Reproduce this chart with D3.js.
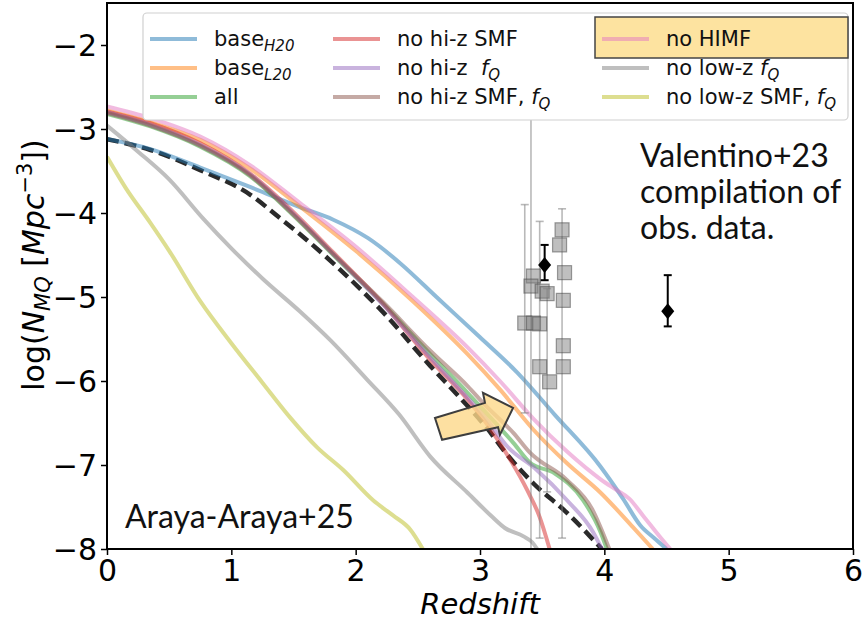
<!DOCTYPE html>
<html>
<head>
<meta charset="utf-8">
<script src="https://cdn.jsdelivr.net/npm/d3@7"></script>
<style>
  body { margin: 0; background: #fff; }
  svg { display: block; }
</style>
</head>
<body>
<svg width="865" height="621"></svg>
<script>
// model curves: [redshift, log N]
var baseH20 = [[0,-3.12],[0.35,-3.24],[0.75,-3.46],[1.15,-3.69],[1.55,-3.93],[1.82,-4.08],[2.1,-4.3],[2.36,-4.6],[2.65,-5.0],[3.0,-5.48],[3.3,-5.9],[3.6,-6.4],[3.97,-7.02],[4.15,-7.4],[4.29,-7.72],[4.4,-7.87],[4.5,-8.0]];
var baseL20 = [[0,-2.78],[0.35,-2.92],[0.75,-3.13],[1.15,-3.47],[1.55,-3.92],[2.0,-4.45],[2.46,-5.05],[2.9,-5.68],[3.16,-6.1],[3.43,-6.58],[3.7,-6.98],[3.97,-7.33],[4.23,-7.74],[4.39,-8.0]];
var allObs = [[0,-2.82],[0.35,-2.97],[0.75,-3.21],[1.15,-3.56],[1.5,-4.03],[1.82,-4.5],[2.22,-5.08],[2.6,-5.68],[2.9,-6.14],[3.05,-6.38],[3.27,-6.74],[3.4,-6.97],[3.6,-7.1],[3.83,-7.42],[3.97,-7.8],[4.02,-8.0]];
var noHiSMF = [[0,-2.79],[0.35,-2.93],[0.75,-3.17],[1.15,-3.53],[1.5,-3.99],[1.82,-4.47],[2.22,-5.08],[2.6,-5.75],[2.9,-6.22],[3.05,-6.5],[3.22,-6.88],[3.38,-7.3],[3.48,-7.62],[3.56,-8.0]];
var noHiFQ = [[0,-2.8],[0.35,-2.95],[0.75,-3.19],[1.15,-3.54],[1.5,-4.01],[1.82,-4.49],[2.22,-5.09],[2.6,-5.72],[2.9,-6.2],[3.05,-6.45],[3.22,-6.78],[3.45,-7.05],[3.7,-7.42],[3.91,-7.8],[3.98,-8.0]];
var noHiSMFFQ = [[0,-2.81],[0.35,-2.96],[0.75,-3.2],[1.15,-3.55],[1.5,-4.02],[1.82,-4.49],[2.22,-5.06],[2.6,-5.64],[2.9,-6.06],[3.05,-6.3],[3.27,-6.62],[3.4,-6.85],[3.7,-7.18],[3.9,-7.52],[4.04,-8.0]];
var noHIMF = [[0,-2.73],[0.35,-2.87],[0.75,-3.09],[1.15,-3.43],[1.55,-3.88],[2.0,-4.4],[2.46,-5.0],[2.9,-5.6],[3.16,-6.0],[3.43,-6.45],[3.7,-6.84],[3.97,-7.17],[4.1,-7.3],[4.2,-7.4],[4.31,-7.6],[4.45,-7.86],[4.53,-8.0]];
var noLowFQ = [[0,-2.96],[0.25,-3.27],[0.5,-3.6],[0.77,-4.06],[1.0,-4.42],[1.25,-4.78],[1.55,-5.17],[1.8,-5.52],[2.09,-5.98],[2.35,-6.4],[2.6,-6.9],[2.9,-7.33],[3.1,-7.62],[3.2,-7.75],[3.35,-7.85],[3.42,-7.92],[3.46,-8.0]];
var noLowSMFFQ = [[0,-3.33],[0.15,-3.7],[0.35,-4.12],[0.5,-4.45],[0.75,-5.05],[1.0,-5.55],[1.25,-6.02],[1.47,-6.43],[1.69,-6.79],[1.9,-7.06],[2.14,-7.42],[2.3,-7.6],[2.44,-7.77],[2.54,-8.0]];
var reference = [[0,-3.12],[0.35,-3.25],[0.75,-3.49],[1.15,-3.78],[1.39,-4.06],[1.55,-4.25],[1.82,-4.6],[2.22,-5.18],[2.6,-5.82],[2.84,-6.2],[3.05,-6.55],[3.22,-6.88],[3.43,-7.22],[3.7,-7.57],[3.98,-8.0]];

// Valentino+23 compilation (squares)
var obsZ = [3.66, 3.64, 3.68, 3.43, 3.41, 3.50, 3.54, 3.67, 3.36, 3.43, 3.48, 3.67, 3.67, 3.48, 3.56];
var obsV = [-4.20, -4.38, -4.71, -4.75, -4.87, -4.93, -4.96, -5.04, -5.31, -5.31, -5.32, -5.58, -5.83, -5.83, -6.01];
var errZ = [3.36, 3.41, 3.48, 3.54, 3.66];
var errTop = [-3.9, -2.2, -4.1, -4.9, -3.95];
var errBot = [-6.38, -8.6, -7.87, -7.32, -7.87];
// black diamonds
var dmZ = [3.52, 4.51];
var dmV = [-4.62, -5.17];
var dmTop = [-4.38, -4.74];
var dmBot = [-4.80, -5.35];

var xTicks = [0, 1, 2, 3, 4, 5, 6];
var yTicks = [-8, -7, -6, -5, -4, -3, -2];

var series = [
  { key: "baseH20", data: baseH20, color: "#1f77b4" },
  { key: "baseL20", data: baseL20, color: "#ff7f0e" },
  { key: "all", data: allObs, color: "#2ca02c" },
  { key: "noHiSMF", data: noHiSMF, color: "#d62728" },
  { key: "noHiFQ", data: noHiFQ, color: "#9467bd" },
  { key: "noHiSMFFQ", data: noHiSMFFQ, color: "#8c564b" },
  { key: "noHIMF", data: noHIMF, color: "#e377c2" },
  { key: "noLowFQ", data: noLowFQ, color: "#7f7f7f" },
  { key: "noLowSMFFQ", data: noLowSMFFQ, color: "#bcbd22" }
];

var m = { left: 107, right: 853, top: 3, bottom: 549 };

var svg = d3.select("svg");

var x = d3.scaleLinear().domain([0, 6]).range([m.left, m.right]);
var y = d3.scaleLinear().domain([-8, -1.5]).range([m.bottom, m.top]);

svg.append("defs").append("clipPath").attr("id", "plot")
  .append("rect")
  .attr("x", m.left).attr("y", m.top)
  .attr("width", m.right - m.left).attr("height", m.bottom - m.top);

var plot = svg.append("g").attr("clip-path", "url(#plot)");

var line = d3.line()
  .x(function(d) { return x(d[0]); })
  .y(function(d) { return y(d[1]); })
  .curve(d3.curveMonotoneX);

// dashed reference goes underneath
plot.append("path")
  .attr("d", line(reference))
  .attr("fill", "none")
  .attr("stroke", "#2a2a2a")
  .attr("stroke-width", 4.5)
  .attr("stroke-dasharray", "12,6");

plot.selectAll(".model")
  .data(series)
  .enter().append("path")
  .attr("class", "model")
  .attr("d", function(d) { return line(d.data); })
  .attr("fill", "none")
  .attr("stroke", function(d) { return d.color; })
  .attr("stroke-opacity", 0.5)
  .attr("stroke-width", 4)
  .attr("stroke-linejoin", "round");

// error bars of the compilation
var eb = plot.selectAll(".eb")
  .data(errZ)
  .enter().append("g")
  .attr("class", "eb")
  .attr("stroke", "#808080")
  .attr("stroke-opacity", 0.55)
  .attr("stroke-width", 1.6);
eb.append("line")
  .attr("x1", function(d) { return x(d); }).attr("x2", function(d) { return x(d); })
  .attr("y1", function(d, i) { return y(errTop[i]); })
  .attr("y2", function(d, i) { return y(errBot[i]); });
eb.append("line")
  .attr("x1", function(d) { return x(d) - 4; }).attr("x2", function(d) { return x(d) + 4; })
  .attr("y1", function(d, i) { return y(errTop[i]); })
  .attr("y2", function(d, i) { return y(errTop[i]); });
eb.append("line")
  .attr("x1", function(d) { return x(d) - 4; }).attr("x2", function(d) { return x(d) + 4; })
  .attr("y1", function(d, i) { return y(errBot[i]); })
  .attr("y2", function(d, i) { return y(errBot[i]); });

plot.selectAll(".sq")
  .data(obsZ)
  .enter().append("rect")
  .attr("class", "sq")
  .attr("x", function(d) { return x(d) - 7; })
  .attr("y", function(d, i) { return y(obsV[i]) - 7; })
  .attr("width", 14).attr("height", 14)
  .attr("fill", "#808080").attr("fill-opacity", 0.5)
  .attr("stroke", "#444").attr("stroke-opacity", 0.5)
  .attr("stroke-width", 1.2);

var dm = plot.selectAll(".dm")
  .data(dmZ)
  .enter().append("g")
  .attr("class", "dm");
dm.append("line")
  .attr("x1", function(d) { return x(d); }).attr("x2", function(d) { return x(d); })
  .attr("y1", function(d, i) { return y(dmTop[i]); })
  .attr("y2", function(d, i) { return y(dmBot[i]); })
  .attr("stroke", "#000").attr("stroke-width", 2);
dm.append("line")
  .attr("x1", function(d) { return x(d) - 4; }).attr("x2", function(d) { return x(d) + 4; })
  .attr("y1", function(d, i) { return y(dmTop[i]); })
  .attr("y2", function(d, i) { return y(dmTop[i]); })
  .attr("stroke", "#000").attr("stroke-width", 2);
dm.append("line")
  .attr("x1", function(d) { return x(d) - 4; }).attr("x2", function(d) { return x(d) + 4; })
  .attr("y1", function(d, i) { return y(dmBot[i]); })
  .attr("y2", function(d, i) { return y(dmBot[i]); })
  .attr("stroke", "#000").attr("stroke-width", 2);
dm.append("path")
  .attr("transform", function(d, i) { return "translate(" + x(d) + "," + y(dmV[i]) + ")"; })
  .attr("d", "M0,-8L6.5,0L0,8L-6.5,0Z")
  .attr("fill", "#000");

// highlight arrow (in data space)
var arrowPts = [[2.638,-6.44],[2.695,-6.70],[3.145,-6.55],[3.16,-6.64],[3.266,-6.32],[3.024,-6.14],[3.04,-6.26]];
plot.append("path")
  .attr("d", "M" + arrowPts.map(function(p) { return x(p[0]) + "," + y(p[1]); }).join("L") + "Z")
  .attr("fill", "#fcd88a").attr("fill-opacity", 0.8)
  .attr("stroke", "#3d3d3d").attr("stroke-width", 2)
  .attr("stroke-linejoin", "miter");

// axes
var xAxis = d3.axisBottom(x).tickValues(xTicks).tickSize(6).tickPadding(3)
  .tickFormat(function(d) { return d; });
var yAxis = d3.axisLeft(y).tickValues(yTicks).tickSize(6).tickPadding(4)
  .tickFormat(function(d) { return "\u2212" + Math.abs(d); });

var gx = svg.append("g").attr("transform", "translate(0," + m.bottom + ")").call(xAxis);
var gy = svg.append("g").attr("transform", "translate(" + m.left + ",0)").call(yAxis);
[gx, gy].forEach(function(g) {
  g.select(".domain").remove();
  g.selectAll("line").attr("stroke", "#000").attr("stroke-width", 1.5);
  g.selectAll("text").attr("fill", "#000")
    .style("font-family", "DejaVu Sans").style("font-size", "30px");
});
gx.selectAll("text").attr("dy", "0.76em");
gy.selectAll("text").attr("dy", "0.36em");

svg.append("rect")
  .attr("x", m.left).attr("y", m.top)
  .attr("width", m.right - m.left).attr("height", m.bottom - m.top)
  .attr("fill", "none").attr("stroke", "#000").attr("stroke-width", 2);

svg.append("text")
  .attr("x", (m.left + m.right) / 2).attr("y", 614)
  .attr("text-anchor", "middle")
  .style("font-family", "DejaVu Sans").style("font-size", "29px").style("font-style", "italic")
  .text("Redshift");

var yl = svg.append("text")
  .attr("transform", "translate(44,265) rotate(-90)")
  .attr("text-anchor", "middle")
  .style("font-family", "DejaVu Sans").style("font-size", "30px");
yl.append("tspan").text("log(");
yl.append("tspan").style("font-style", "italic").text("N");
yl.append("tspan").style("font-style", "italic").style("font-size", "21px").attr("dy", 6).text("MQ");
yl.append("tspan").attr("dy", -6).text(" [");
yl.append("tspan").style("font-style", "italic").text("Mpc");
yl.append("tspan").style("font-size", "21px").attr("dy", -12).text("\u22123");
yl.append("tspan").attr("dy", 12).text("])");

// annotations
var ann = svg.append("text")
  .style("font-family", "Lato").style("font-size", "32px").attr("fill", "#111");
ann.append("tspan").attr("x", 640).attr("y", 167).text("Valentino+23");
ann.append("tspan").attr("x", 640).attr("y", 203).text("compilation of");
ann.append("tspan").attr("x", 640).attr("y", 239).text("obs. data.");

svg.append("text")
  .attr("x", 125).attr("y", 528)
  .style("font-family", "Lato").style("font-size", "32px").attr("fill", "#111")
  .text("Araya-Araya+25");

// legend
var legend = svg.append("g");
legend.append("rect")
  .attr("x", 143).attr("y", 13).attr("width", 705).attr("height", 107)
  .attr("rx", 4)
  .attr("fill", "#fff")
  .attr("stroke", "#d0d0d0").attr("stroke-width", 1.2);
legend.append("rect")
  .attr("x", 595).attr("y", 17).attr("width", 253).attr("height", 41)
  .attr("fill", "#fde3a0").attr("stroke", "#444").attr("stroke-width", 1.5);

var colX = [150, 333, 602];
var rowY = [39, 68, 97];
var labels = [
  [["base", ""], ["H20", "sub"]],
  [["base", ""], ["L20", "sub"]],
  [["all", ""]],
  [["no hi-z SMF", ""]],
  [["no hi-z\u00a0\u00a0", ""], ["f", "it"], ["Q", "sub"]],
  [["no hi-z SMF, ", ""], ["f", "it"], ["Q", "sub"]],
  [["no HIMF", ""]],
  [["no low-z ", ""], ["f", "it"], ["Q", "sub"]],
  [["no low-z SMF, ", ""], ["f", "it"], ["Q", "sub"]]
];
var order = ["baseH20", "baseL20", "all", "noHiSMF", "noHiFQ", "noHiSMFFQ", "noHIMF", "noLowFQ", "noLowSMFFQ"];

order.forEach(function(k, i) {
  var s = series.filter(function(d) { return d.key === k; })[0];
  var cx = colX[Math.floor(i / 3)], cy = rowY[i % 3];
  legend.append("line")
    .attr("x1", cx).attr("x2", cx + 47).attr("y1", cy).attr("y2", cy)
    .attr("stroke", s.color).attr("stroke-opacity", 0.5).attr("stroke-width", 4);
  var t = legend.append("text")
    .attr("x", cx + 64).attr("y", cy + 7)
    .style("font-family", "DejaVu Sans").style("font-size", "21px").attr("fill", "#111");
  labels[i].forEach(function(p) {
    var ts = t.append("tspan").text(p[0]);
    if (p[1] === "sub") {
      ts.style("font-style", "italic").style("font-size", "15px").attr("dy", 5);
    } else if (p[1] === "it") {
      ts.style("font-style", "italic");
    }
  });
});
</script>
</body>
</html>
